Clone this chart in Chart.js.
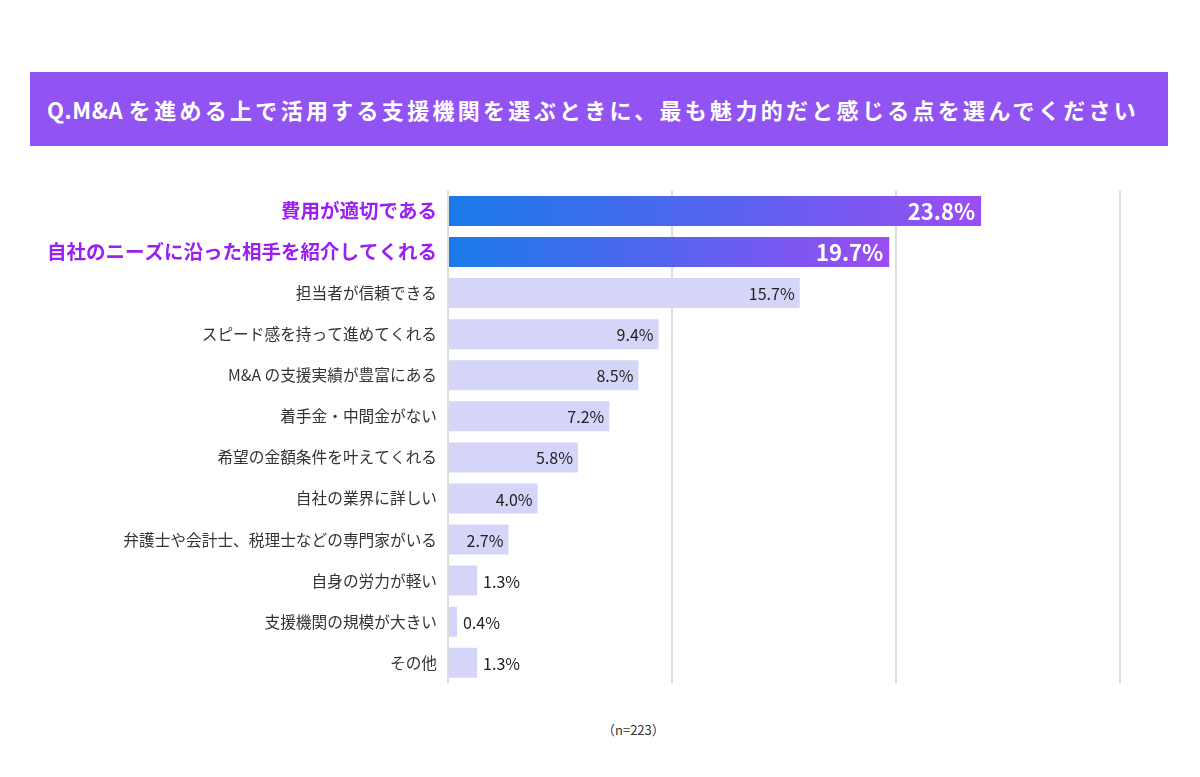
<!DOCTYPE html>
<html lang="ja">
<head>
  <meta charset="UTF-8">
  <title>支援機関の魅力</title>
  <script src="https://cdn.jsdelivr.net/npm/chart.js@4/dist/chart.umd.min.js"></script>
  <style>
    body { margin: 0; width: 1200px; height: 777px; background: #fff; position: relative; font-family: "Noto Sans CJK JP", sans-serif; overflow: hidden; }
    .title { position: absolute; left: 30px; top: 72px; width: 1138px; height: 74px; background: #9153f1; color: #fff;
             font-size: 22px; font-weight: bold; letter-spacing: 3.3px; line-height: 74px; padding-left: 17px; box-sizing: border-box; white-space: nowrap; }
    .title span { letter-spacing: 0.6px; }
    .wrap { position: absolute; left: 0; top: 170px; width: 1200px; height: 536px; }
    .note { position: absolute; left: 602px; top: 720px; font-size: 13px; color: #333; }
  </style>
</head>
<body>
  <div class="title"><span>Q.M&amp;A </span>を進める上で活用する支援機関を選ぶときに、最も魅力的だと感じる点を選んでください</div>
  <div class="wrap"><canvas id="chart"></canvas></div>
  <div class="note">（n=223）</div>

  <script>
    // 回答項目
    const categories = [
      '費用が適切である',
      '自社のニーズに沿った相手を紹介してくれる',
      '担当者が信頼できる',
      'スピード感を持って進めてくれる',
      'M&A の支援実績が豊富にある',
      '着手金・中間金がない',
      '希望の金額条件を叶えてくれる',
      '自社の業界に詳しい',
      '弁護士や会計士、税理士などの専門家がいる',
      '自身の労力が軽い',
      '支援機関の規模が大きい',
      'その他'
    ];
    // 割合 (%)
    const values = [23.8, 19.7, 15.7, 9.4, 8.5, 7.2, 5.8, 4.0, 2.7, 1.3, 0.4, 1.3];
    const highlightCount = 2;

    const lightBar = '#d5d5fa';
    const accent = '#9b1ef2';
    const fontFamily = '"Noto Sans CJK JP", sans-serif';

    // バーの数値ラベル
    const valueLabels = {
      id: 'valueLabels',
      afterDatasetsDraw(chart) {
        const c = chart.ctx;
        const meta = chart.getDatasetMeta(0);
        c.save();
        c.textBaseline = 'middle';
        meta.data.forEach((bar, i) => {
          const txt = values[i].toFixed(1) + '%';
          const left = chart.chartArea.left;
          if (i < highlightCount) {
            c.font = 'bold 22px ' + fontFamily;
            c.fillStyle = '#fff';
            c.textAlign = 'right';
            c.fillText(txt, bar.x - 6, bar.y + 1);
            return;
          }
          c.font = '16px ' + fontFamily;
          c.fillStyle = '#222';
          const w = c.measureText(txt).width;
          if (bar.x - left > w + 8) {
            c.textAlign = 'right';
            c.fillText(txt, bar.x - 5, bar.y + 1);
          } else {
            c.textAlign = 'left';
            c.fillText(txt, bar.x + 6, bar.y + 1);
          }
        });
        c.restore();
      }
    };

    const ctx = document.getElementById('chart').getContext('2d');
    new Chart(ctx, {
      type: 'bar',
      data: {
        labels: categories,
        datasets: [{
          data: values,
          backgroundColor: (context) => {
            const i = context.dataIndex;
            if (i >= highlightCount) return lightBar;
            const chart = context.chart;
            const area = chart.chartArea;
            if (!area) return '#5a5cf0';
            const end = chart.scales.x.getPixelForValue(values[i]);
            const g = chart.ctx.createLinearGradient(area.left, 0, end, 0);
            g.addColorStop(0, '#1a7ae8');
            g.addColorStop(0.5, '#5564ee');
            g.addColorStop(1, '#9b4df3');
            return g;
          },
          borderWidth: 0,
          barPercentage: 0.73,
          categoryPercentage: 1
        }]
      },
      options: {
        indexAxis: 'y',
        responsive: true,
        maintainAspectRatio: false,
        animation: false,
        layout: { padding: { top: 10, right: 80, bottom: 0, left: 0 } },
        plugins: {
          legend: { display: false },
          tooltip: { enabled: false }
        },
        scales: {
          x: {
            min: 0,
            max: 30,
            ticks: { display: false, stepSize: 10 },
            grid: { color: '#dddddd', lineWidth: 2, drawTicks: false },
            border: { display: false }
          },
          y: {
            afterFit(scale) { scale.width = 448; },
            grid: { display: false, drawTicks: false },
            border: { display: false },
            ticks: {
              padding: 11,
              color: (c) => c.index < highlightCount ? accent : '#333',
              font: (c) => c.index < highlightCount
                ? { family: fontFamily, size: 19.5, weight: 'bold' }
                : { family: fontFamily, size: 15.7 }
            }
          }
        }
      },
      plugins: [valueLabels]
    });
  </script>
</body>
</html>
